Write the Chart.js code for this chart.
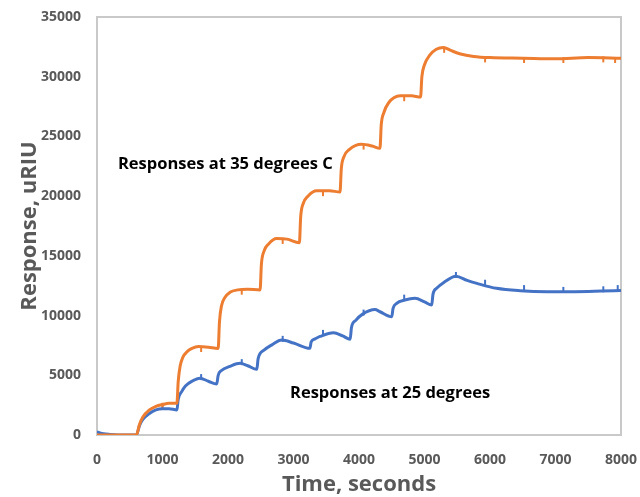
<!DOCTYPE html>
<html>
<head>
<meta charset="utf-8">
<script src="https://cdn.jsdelivr.net/npm/chart.js@4/dist/chart.umd.min.js"></script>
<style>
  html, body { margin: 0; padding: 0; background: #fff; }
  #wrap { width: 640px; height: 497px; position: relative; }
</style>
</head>
<body>
<div id="wrap"><canvas id="chart"></canvas></div>
<script>
// Response at 35 degrees C (orange)
const time35 = [0, 200, 400, 600, 650, 700, 800, 900, 1000, 1100, 1220,
    1240, 1270, 1310, 1380, 1450, 1550, 1700, 1850,
    1870, 1900, 1950, 2030, 2150, 2300, 2490,
    2510, 2550, 2620, 2744, 2900, 3090,
    3110, 3150, 3220, 3355, 3550, 3710,
    3730, 3770, 3850, 4040, 4200, 4320,
    4340, 4380, 4450, 4630, 4800, 4940,
    4960, 5000, 5080, 5180, 5290, 5400, 5550, 5750, 6000, 6500, 7000, 7500, 8000];
const resp35 = [0, 0, 0, 0, 900, 1500, 2100, 2400, 2550, 2650, 2650,
    4500, 5800, 6500, 7000, 7250, 7400, 7350, 7250,
    9500, 10800, 11500, 11950, 12150, 12200, 12150,
    14300, 15400, 16000, 16450, 16400, 16100,
    18300, 19400, 20000, 20450, 20450, 20350,
    22300, 23300, 23900, 24350, 24200, 24000,
    26000, 27000, 27800, 28400, 28400, 28300,
    30000, 31000, 31800, 32300, 32450, 32200, 31900, 31700, 31600, 31550, 31500, 31600, 31550];

// Response at 25 degrees (blue)
const time25 = [0, 100, 200, 400, 600, 650, 700, 800, 900, 1000, 1100, 1220,
    1240, 1293, 1350, 1450, 1573, 1700, 1828,
    1850, 1900, 2030, 2185, 2300, 2440,
    2460, 2550, 2670, 2820, 3000, 3250,
    3270, 3330, 3405, 3610, 3750, 3865,
    3885, 3950, 4050, 4245, 4320, 4500,
    4520, 4575, 4700, 4855, 5000, 5110,
    5130, 5185, 5300, 5480, 5650, 5800, 6100, 6460, 6870, 7300, 7700, 8000];
const resp25 = [250, 100, 50, 0, 0, 800, 1300, 1800, 2100, 2200, 2200, 2100,
    3000, 3630, 4100, 4500, 4750, 4500, 4270,
    5000, 5400, 5750, 6000, 5800, 5500,
    6400, 7100, 7550, 7950, 7700, 7260,
    7800, 8050, 8250, 8560, 8300, 8010,
    9000, 9600, 10100, 10500, 10320, 9900,
    10600, 11020, 11300, 11440, 11150, 10880,
    11800, 12280, 12800, 13300, 12950, 12700, 12280, 12080, 12000, 12000, 12050, 12100];

// small tick marks sitting on the traces
const markTime35 = [1000, 1590, 2210, 2835, 3450, 4070, 4690, 5300, 5925, 6520, 7120, 7730, 7910];
const markResp35 = [2450, 7200, 12000, 16250, 20250, 24150, 28200, 32250, 31450, 31400, 31400, 31450, 31400];
const markTime25 = [1000, 1590, 2210, 2835, 3450, 4070, 4690, 5480, 5925, 6520, 7120, 7730, 7950];
const markResp25 = [2350, 4850, 6100, 8050, 8550, 10250, 11500, 13400, 12750, 12300, 12150, 12200, 12300];

// annotation texts and where they sit (data coords)
const notes = [
    { text: 'Responses at 35 degrees C', t: 320, v: 22680 },
    { text: 'Responses at 25 degrees', t: 2947, v: 3515 }
];

const ORANGE = '#ED7D31';
const BLUE = '#4472C4';
const GREY = '#595959';
const FONT = '"Open Sans", Lato, sans-serif';

const toXY = (ts, vs) => ts.map((t, i) => ({ x: t, y: vs[i] }));

const frameAndNotes = {
    id: 'frameAndNotes',
    beforeDatasetsDraw(chart) {
        const { ctx, chartArea: a } = chart;
        ctx.save();
        ctx.strokeStyle = '#c9c9c9';
        ctx.lineWidth = 2;
        ctx.strokeRect(a.left, a.top, a.right - a.left, a.bottom - a.top);
        ctx.restore();
    },
    afterDraw(chart) {
        const { ctx, scales } = chart;
        ctx.save();
        ctx.fillStyle = '#000';
        ctx.font = 'bold 16.5px ' + FONT;
        ctx.textBaseline = 'middle';
        notes.forEach(n => {
            ctx.fillText(n.text, scales.x.getPixelForValue(n.t), scales.y.getPixelForValue(n.v));
        });
        ctx.restore();
    }
};

const lineSet = (data, color) => ({
    data: data,
    borderColor: color,
    backgroundColor: color,
    borderWidth: 3,
    pointRadius: 0,
    cubicInterpolationMode: 'monotone',
    fill: false
});

const markSet = (data, color) => ({
    data: data,
    showLine: false,
    borderColor: color,
    backgroundColor: color,
    pointStyle: 'line',
    rotation: 90,
    pointRadius: 3,
    borderWidth: 2
});

new Chart(document.getElementById('chart'), {
    type: 'line',
    data: {
        datasets: [
            lineSet(toXY(time35, resp35), ORANGE),
            lineSet(toXY(time25, resp25), BLUE),
            markSet(toXY(markTime35, markResp35), ORANGE),
            markSet(toXY(markTime25, markResp25), BLUE)
        ]
    },
    options: {
        responsive: true,
        maintainAspectRatio: false,
        animation: false,
        layout: { padding: { top: 17, right: 0, left: 0, bottom: 0 } },
        plugins: {
            legend: { display: false },
            tooltip: { enabled: false }
        },
        scales: {
            x: {
                type: 'linear',
                min: 0,
                max: 8000,
                grid: { display: false },
                border: { display: false },
                afterFit: s => { s.height = 62; s.paddingRight = 19; },
                ticks: {
                    stepSize: 1000,
                    padding: 9,
                    color: GREY,
                    font: { family: FONT, size: 14, weight: 'bold' },
                    maxRotation: 0,
                    callback: v => String(v)
                },
                title: {
                    display: true,
                    text: 'Time, seconds',
                    color: GREY,
                    padding: { top: 0, bottom: -1 },
                    font: { family: FONT, size: 22, weight: 'bold', lineHeight: 1.2 }
                }
            },
            y: {
                min: 0,
                max: 35000,
                grid: { display: false },
                border: { display: false },
                afterFit: s => { s.width = 97; },
                ticks: {
                    stepSize: 5000,
                    padding: 8,
                    color: GREY,
                    font: { family: FONT, size: 14, weight: 'bold' },
                    callback: v => String(v)
                },
                title: {
                    display: true,
                    text: 'Response, uRIU',
                    color: GREY,
                    padding: { top: 17, bottom: 0 },
                    font: { family: FONT, size: 22, weight: 'bold', lineHeight: 1.2 }
                }
            }
        }
    },
    plugins: [frameAndNotes]
});
</script>
</body>
</html>
